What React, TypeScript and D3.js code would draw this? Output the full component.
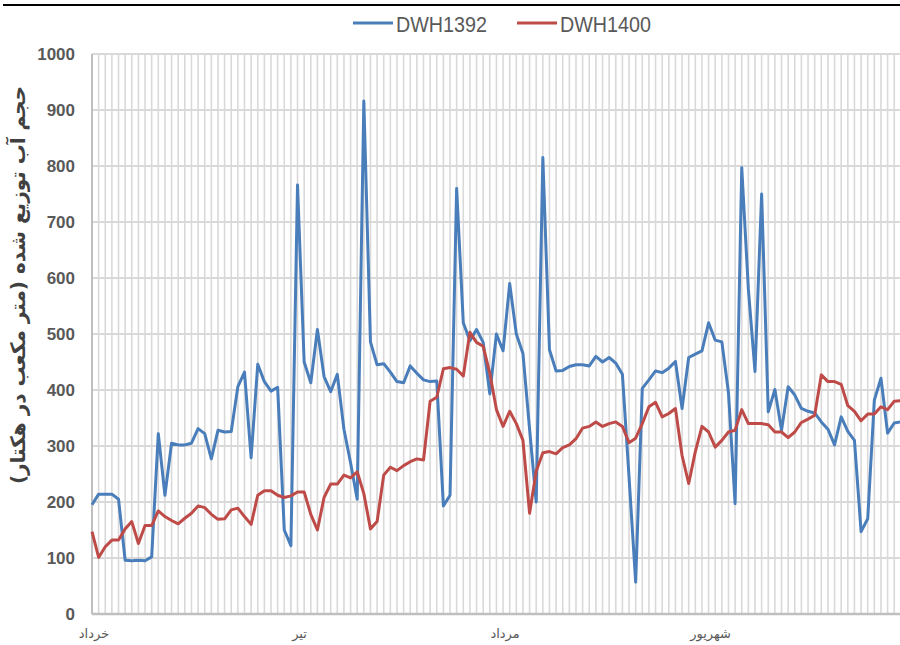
// Daily distributed water volume, DWH1392 vs DWH1400, Khordad–Shahrivar.
import * as d3 from "d3";

const monthLabels = ["خرداد", "تیر", "مرداد", "شهریور"];
const monthStart = [0, 31, 62, 93];
const yTicks = [0, 100, 200, 300, 400, 500, 600, 700, 800, 900, 1000];

const dwh1392 = [
  195, 214, 214, 214, 205, 96, 95, 96, 95, 102,
  322, 212, 305, 302, 302, 305, 331, 322, 277, 328,
  325, 326, 406, 432, 279, 446, 415, 398, 405, 150,
  122, 766, 450, 413, 508, 424, 397, 428, 330, 270,
  205, 916, 486, 445, 447, 432, 415, 413, 443, 430,
  418, 415, 416, 193, 212, 760, 520, 488, 508, 485,
  393, 500, 470, 590, 500, 465, 330, 200, 815, 472,
  434, 435, 442, 445, 445, 443, 460, 450, 458, 448,
  428, 245, 57, 403, 418, 434, 431, 439, 451, 367,
  458, 464, 470, 520, 489, 486, 395, 197, 797, 580,
  433, 750, 361, 401, 328, 406, 391, 367, 362, 359,
  343, 330, 302, 352, 326, 310, 147, 170, 382, 421,
  323, 341, 343,
];

const dwh1400 = [
  147, 101, 120, 132, 132, 152, 165, 126, 158, 158,
  184, 174, 167, 161, 171, 180, 193, 190, 178, 169,
  170, 186, 189, 174, 160, 212, 220, 220, 212, 208,
  211, 218, 218, 178, 150, 208, 232, 232, 248, 243,
  254, 215, 152, 165, 248, 262, 256, 265, 272, 277,
  275, 380, 387, 438, 440, 437, 425, 503, 485, 478,
  430, 365, 335, 362, 340, 310, 180, 255, 288, 290,
  286, 297, 302, 313, 332, 335, 343, 335, 340, 343,
  335, 306, 314, 340, 370, 378, 352, 358, 367, 283,
  233, 290, 335, 325, 298, 310, 325, 328, 365, 340,
  340, 340, 338, 325, 325, 315, 325, 342, 348, 355,
  427, 415, 415, 410, 372, 362, 345, 357, 357, 370,
  365, 380, 381,
];

const series = [
  { name: "DWH1392", values: dwh1392, color: "#4a7ebb" },
  { name: "DWH1400", values: dwh1400, color: "#be4b48" },
];

export default function App() {
  const W = 900, H = 645;
  const left = 92, top = 54, bottom = 614, step = 6.63;
  const n = dwh1392.length;

  const x = d3.scaleLinear().domain([0, n - 1]).range([left, left + (n - 1) * step]);
  const y = d3.scaleLinear().domain([0, 1000]).range([bottom, top]);
  const line = d3.line<number>().x((_, i) => x(i)).y((v) => y(v));

  const gridIdx = d3.range(1, n + 2);
  const legendX = [353, 517];

  return (
    <svg width={W} height={H} style={{ position: "absolute", left: 0, top: 0, background: "#fff" }}>
      <line x1={3} x2={W} y1={5} y2={5} stroke="#000" strokeWidth={2} />

      {/* grid */}
      {gridIdx.map((i) => (
        <line key={"v" + i} x1={x(i)} x2={x(i)} y1={top} y2={bottom}
              stroke="#d9d9d9" strokeWidth={1.6} />
      ))}
      {yTicks.filter((t) => t > 0).map((t) => (
        <line key={"h" + t} x1={left} x2={W} y1={y(t)} y2={y(t)}
              stroke="#d9d9d9" strokeWidth={2} />
      ))}
      <line x1={left} x2={left} y1={top} y2={bottom} stroke="#bfbfbf" strokeWidth={2} />
      <line x1={left} x2={W} y1={bottom} y2={bottom} stroke="#bfbfbf" strokeWidth={2.5} />

      {/* y ticks */}
      {yTicks.map((t) => (
        <text key={"t" + t} x={75} y={y(t)} dy="0.36em" textAnchor="end"
              fontFamily="Liberation Sans, Arial, sans-serif" fontWeight="bold"
              fontSize={17} fill="#595959">{t}</text>
      ))}

      {/* month labels */}
      {monthLabels.map((m, k) => (
        <text key={m} x={x(monthStart[k]) + 2} y={638} textAnchor="middle"
              fontFamily="DejaVu Sans, sans-serif" fontSize={13} fill="#595959">{m}</text>
      ))}

      {/* y title */}
      <text transform="translate(25,285) rotate(-90)" textAnchor="middle"
            fontFamily="DejaVu Sans, sans-serif" fontWeight="bold" fontSize={20}
            fill="#404040" direction="rtl">
        حجم آب توزیع شده (متر مکعب در هکتار)
      </text>

      {/* series */}
      {series.map((s) => (
        <path key={s.name} d={line(s.values) ?? ""} fill="none" stroke={s.color}
              strokeWidth={3} strokeLinejoin="round" />
      ))}

      {/* legend */}
      {series.map((s, k) => (
        <g key={"lg" + s.name} transform={`translate(${legendX[k]},23)`}>
          <line x1={0} x2={40} y1={0} y2={0} stroke={s.color} strokeWidth={3} />
          <text x={43} y={8.5} fontFamily="Liberation Sans, Arial, sans-serif" fontSize={22}
                fill="#595959" textLength={91} lengthAdjust="spacingAndGlyphs">{s.name}</text>
        </g>
      ))}
    </svg>
  );
}
